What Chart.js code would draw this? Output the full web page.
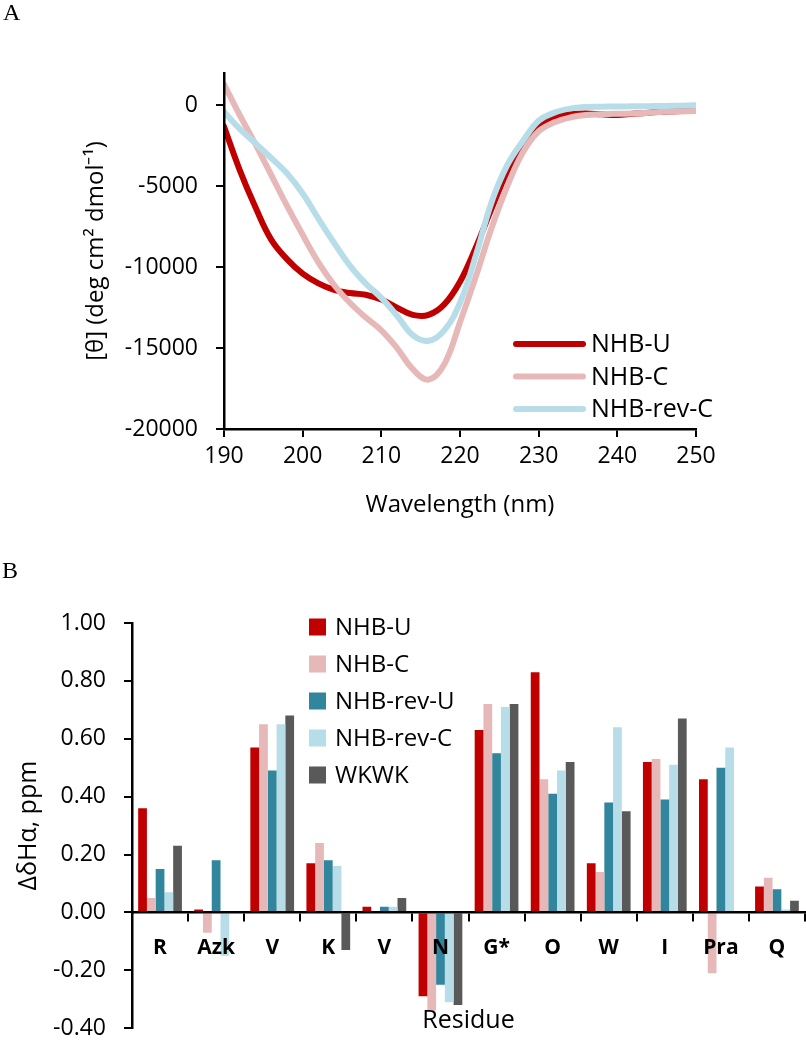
<!DOCTYPE html>
<html>
<head>
<meta charset="utf-8">
<script src="https://cdn.jsdelivr.net/npm/chart.js@4.4.1/dist/chart.umd.min.js"></script>
<style>
  html, body { margin: 0; padding: 0; background: #fff; overflow: hidden; }
  #wrap { position: relative; width: 806px; height: 1050px; }
  canvas { position: absolute; left: 0; }
  .panel { position: absolute; font-family: "Liberation Serif", serif; font-size: 24px; line-height: 24px; color: #000; }
</style>
</head>
<body>
<div id="wrap">
  <canvas id="cd" width="806" height="560" style="top:0"></canvas>
  <canvas id="nmr" width="806" height="500" style="top:560px"></canvas>
  <div class="panel" style="top:0;left:3px">A</div>
  <div class="panel" style="top:558px;left:2px">B</div>
</div>
<script>
// panel A - CD spectra
const wavelength = [190, 192, 194, 196, 198, 200, 202, 204, 206, 208, 210, 212, 214, 216, 218, 220,
  222, 224, 226, 228, 230, 232, 234, 236, 238, 240, 242, 244, 246, 248, 250];
const cdNhbU = [-1300, -4000, -6300, -8300, -9500, -10400, -11000, -11400, -11600, -11700, -12000, -12500, -12950, -12950, -12300, -10900,
  -8800, -6400, -4100, -2300, -1200, -750, -550, -500, -550, -600, -520, -450, -400, -350, -300];
const cdNhbC = [1300, -600, -2400, -4300, -6200, -8000, -9700, -11100, -12200, -13100, -13900, -15000, -16300, -16950, -16000, -13400,
  -10600, -7600, -5000, -2900, -1600, -1050, -750, -600, -550, -520, -500, -450, -400, -380, -350];
const cdNhbRevC = [-400, -1450, -2350, -3250, -4200, -5450, -7000, -8500, -9900, -11000, -11900, -13000, -14200, -14550, -13900, -12200,
  -9300, -6000, -3700, -2200, -950, -450, -200, -100, -80, -70, -60, -50, -40, -20, 0];
const yTicksA = [0, -5000, -10000, -15000, -20000];

// panel B - chemical shift deviations
const residues = ['R', 'Azk', 'V', 'K', 'V', 'N', 'G*', 'O', 'W', 'I', 'Pra', 'Q'];
const shiftNhbU = [0.36, 0.01, 0.57, 0.17, 0.02, -0.29, 0.63, 0.83, 0.17, 0.52, 0.46, 0.09];
const shiftNhbC = [0.05, -0.07, 0.65, 0.24, 0.005, -0.34, 0.72, 0.46, 0.14, 0.53, -0.21, 0.12];
const shiftNhbRevU = [0.15, 0.18, 0.49, 0.18, 0.02, -0.25, 0.55, 0.41, 0.38, 0.39, 0.50, 0.08];
const shiftNhbRevC = [0.07, -0.15, 0.65, 0.16, 0.02, -0.31, 0.71, 0.49, 0.64, 0.51, 0.57, 0.01];
const shiftWkwk = [0.23, 0, 0.68, -0.13, 0.05, -0.32, 0.72, 0.52, 0.35, 0.67, 0, 0.04];
const yTicksB = [1.0, 0.8, 0.6, 0.4, 0.2, 0, -0.2, -0.4];

const xTitleA = 'Wavelength (nm)';
const yTitleA = '[θ] (deg cm² dmol⁻¹)';
const xTitleB = 'Residue';
const yTitleB = 'ΔδHα, ppm';

Chart.defaults.font.family = '"Open Sans", sans-serif';
Chart.defaults.color = '#000';

const pts = arr => wavelength.map((w, i) => ({ x: w, y: arr[i] }));

// legend drawn inside the plot area
const insideLegend = {
  id: 'insideLegend',
  afterDraw(chart, args, opts) {
    const ctx = chart.ctx;
    ctx.save();
    ctx.font = opts.fontSize + 'px "Open Sans"';
    ctx.textBaseline = 'middle';
    chart.data.datasets.forEach((d, i) => {
      const y = opts.y + i * opts.step;
      if (opts.kind === 'line') {
        ctx.strokeStyle = d.borderColor;
        ctx.lineWidth = 6;
        ctx.lineCap = 'round';
        ctx.beginPath();
        ctx.moveTo(opts.x, y);
        ctx.lineTo(opts.x + opts.len, y);
        ctx.stroke();
      } else {
        ctx.fillStyle = d.backgroundColor;
        ctx.fillRect(opts.x, y - opts.len / 2, opts.len, opts.len);
      }
      ctx.fillStyle = '#000';
      ctx.fillText(d.label, opts.textX, y + 1);
    });
    ctx.restore();
  }
};

const residueCaption = {
  id: 'residueCaption',
  afterDraw(chart) {
    const { ctx, chartArea } = chart;
    ctx.save();
    ctx.font = '25px "Open Sans"';
    ctx.fillStyle = '#000';
    ctx.textAlign = 'center';
    ctx.fillText(xTitleB, (chartArea.left + chartArea.right) / 2, chartArea.bottom);
    ctx.restore();
  }
};

const axisGrid = { drawOnChartArea: false, color: '#000', lineWidth: 2, tickLength: 8, z: 1 };
const axisBorder = { color: '#000', width: 2.5, z: 1 };

new Chart(document.getElementById('cd'), {
  type: 'line',
  data: {
    datasets: [
      { label: 'NHB-U', data: pts(cdNhbU), borderColor: '#C00000', order: 3 },
      { label: 'NHB-C', data: pts(cdNhbC), borderColor: '#E6B9B8', order: 2 },
      { label: 'NHB-rev-C', data: pts(cdNhbRevC), borderColor: '#B7DEE8', order: 1 }
    ]
  },
  options: {
    responsive: false,
    animation: false,
    devicePixelRatio: 1,
    elements: {
      line: { borderWidth: 6, tension: 0.4, borderCapStyle: 'round', borderJoinStyle: 'round', fill: false },
      point: { radius: 0 }
    },
    layout: { padding: { top: 73, right: 110, left: 0, bottom: 0 } },
    plugins: {
      legend: { display: false },
      tooltip: { enabled: false },
      insideLegend: { kind: 'line', x: 516, len: 67, textX: 591, y: 344, step: 32.5, fontSize: 25 }
    },
    scales: {
      x: {
        type: 'linear', min: 190, max: 250,
        ticks: { stepSize: 10, padding: 6, font: { size: 23 }, z: 1, callback: v => String(v) },
        grid: axisGrid, border: axisBorder,
        title: { display: true, text: xTitleA, font: { size: 24 }, padding: { top: 0, bottom: 40 } },
        afterFit: s => { s.height = 131; }
      },
      y: {
        min: -20000, max: 2000,
        ticks: { padding: 18, font: { size: 23 }, z: 1, callback: v => String(v) },
        afterBuildTicks: s => { s.ticks = yTicksA.map(v => ({ value: v })); },
        grid: axisGrid, border: axisBorder,
        title: { display: true, text: yTitleA, font: { size: 24 }, padding: { top: 82, bottom: 0 } },
        afterFit: s => { s.width = 224; }
      }
    }
  },
  plugins: [insideLegend]
});

new Chart(document.getElementById('nmr'), {
  type: 'bar',
  data: {
    labels: residues,
    datasets: [
      { label: 'NHB-U', data: shiftNhbU, backgroundColor: '#C00000' },
      { label: 'NHB-C', data: shiftNhbC, backgroundColor: '#E6B9B8' },
      { label: 'NHB-rev-U', data: shiftNhbRevU, backgroundColor: '#31859C' },
      { label: 'NHB-rev-C', data: shiftNhbRevC, backgroundColor: '#B7DEE8' },
      { label: 'WKWK', data: shiftWkwk, backgroundColor: '#595959' }
    ]
  },
  options: {
    responsive: false,
    animation: false,
    devicePixelRatio: 1,
    datasets: { bar: { categoryPercentage: 0.78, barPercentage: 1.0 } },
    layout: { padding: { top: 63, right: 1, bottom: 17, left: 0 } },
    plugins: {
      legend: { display: false },
      tooltip: { enabled: false },
      insideLegend: { kind: 'box', x: 309, len: 17, textX: 335, y: 67, step: 37, fontSize: 24 }
    },
    scales: {
      x: {
        position: { y: 0 }, offset: true,
        ticks: { padding: 15, z: 1, font: { size: 21, weight: 'bold' } },
        grid: Object.assign({ offset: true }, axisGrid), border: axisBorder
      },
      y: {
        min: -0.4, max: 1.0,
        ticks: { padding: 18, font: { size: 23 }, z: 1, callback: v => (Math.round(v * 100) / 100).toFixed(2) },
        afterBuildTicks: s => { s.ticks = yTicksB.map(v => ({ value: v })); },
        grid: axisGrid, border: axisBorder,
        title: { display: true, text: yTitleB, font: { size: 25 }, padding: { top: 14, bottom: 0 } },
        afterFit: s => { s.width = 132; }
      }
    }
  },
  plugins: [insideLegend, residueCaption]
});
</script>
</body>
</html>
